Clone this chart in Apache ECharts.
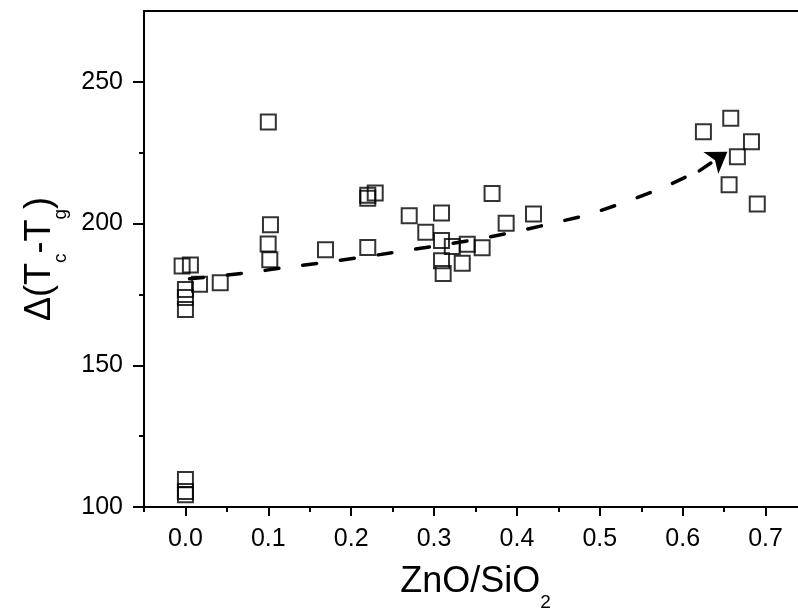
<!DOCTYPE html>
<html>
<head>
<meta charset="utf-8">
<script src="https://cdn.jsdelivr.net/npm/echarts@6/dist/echarts.min.js"></script>
<style>
html,body{margin:0;padding:0;background:#fff;}
#chart{width:798px;height:610px;}
</style>
</head>
<body>
<div id="chart"></div>
<script>
// ---- data ----
const pointX = [-0.004, 0.006, 0.017, 0.042, 0.0, 0.0, 0.0, 0.0, 0.0, 0.0,
                0.100, 0.1026, 0.0998, 0.1018, 0.169, 0.220, 0.220, 0.229, 0.220,
                0.270, 0.309, 0.290, 0.309, 0.322, 0.309, 0.311, 0.334, 0.340, 0.358,
                0.370, 0.387, 0.420,
                0.625, 0.658, 0.683, 0.666, 0.656, 0.690];
const pointY = [185.0, 185.4, 178.6, 179.1, 176.7, 173.9, 169.7, 109.7, 105.5, 104.3,
                235.8, 199.6, 192.8, 187.2, 190.8, 210.0, 208.9, 210.8, 191.6,
                202.8, 203.7, 196.9, 194.0, 191.9, 186.9, 182.4, 186.0, 192.7, 191.5,
                210.6, 200.1, 203.4,
                232.4, 237.2, 228.9, 223.6, 213.7, 206.9];

// dashed trend arrow
const trendX = [0.005, 0.03, 0.08, 0.122, 0.168, 0.213, 0.258, 0.30, 0.35, 0.395, 0.44, 0.485, 0.53, 0.575, 0.62, 0.654];
const trendY = [180.5, 181.2, 182.8, 184.6, 186.3, 188.1, 190.1, 192.0, 194.3, 196.9, 199.9, 203.0, 207.5, 212.5, 218.6, 225.3];

const xMajorTicks = [0, 0.1, 0.2, 0.3, 0.4, 0.5, 0.6, 0.7];
const xMinorTicks = [-0.05, 0.05, 0.15, 0.25, 0.35, 0.45, 0.55, 0.65];
const yMajorTicks = [100, 150, 200, 250];
const yMinorTicks = [125, 175, 225];

const X_MIN = -0.05, X_MAX = 0.75, Y_MIN = 100, Y_MAX = 275;

const scatterData = pointX.map((x, i) => [x, pointY[i]]);
const trendCoords = trendX.map((x, i) => [x, trendY[i]]);
const n = trendCoords.length;
const trendBody = trendCoords.slice(0, n - 1);
const trendHead = trendCoords.slice(n - 2);

const FONT = '"Liberation Sans", Arial, sans-serif';
const axisLineStyle = { color: '#000', width: 2 };
const dashStyle = { color: '#000', width: 3.5, type: [14, 24], cap: 'round', opacity: 1 };

const chart = echarts.init(document.getElementById('chart'), null, { renderer: 'canvas' });

const titleRich = {
  main: { fontSize: 36, fontFamily: FONT, color: '#000', lineHeight: 40, verticalAlign: 'top' },
  sub: { fontSize: 19, fontFamily: FONT, color: '#000', lineHeight: 19, padding: [29, 0, 0, 0], verticalAlign: 'top' }
};

chart.setOption({
  animation: false,
  backgroundColor: '#fff',
  grid: { left: 144, top: 11, right: -9, bottom: 103, containLabel: false, outerBoundsMode: 'none' },
  xAxis: [
    {
      type: 'value', min: X_MIN, max: X_MAX, position: 'bottom',
      axisLine: { show: true, onZero: false, lineStyle: axisLineStyle },
      axisTick: { show: true, customValues: xMajorTicks, length: 9, inside: false, lineStyle: { color: '#000', width: 2 } },
      axisLabel: {
        show: true, customValues: xMajorTicks, margin: 20,
        fontSize: 25, fontFamily: FONT, color: '#000',
        formatter: v => Number(v).toFixed(1)
      },
      splitLine: { show: false },
      name: '{main|ZnO/SiO}{sub|2}',
      nameLocation: 'middle', nameGap: 57,
      nameTextStyle: { rich: titleRich }
    },
    {
      type: 'value', min: X_MIN, max: X_MAX, position: 'bottom',
      axisLine: { show: false, onZero: false },
      axisTick: { show: true, customValues: xMinorTicks, length: 5, lineStyle: { color: '#000', width: 2 } },
      axisLabel: { show: false },
      splitLine: { show: false }
    },
    {
      type: 'value', min: X_MIN, max: X_MAX, position: 'top',
      axisLine: { show: true, onZero: false, lineStyle: axisLineStyle },
      axisTick: { show: false },
      axisLabel: { show: false },
      splitLine: { show: false }
    }
  ],
  yAxis: [
    {
      type: 'value', min: Y_MIN, max: Y_MAX, position: 'left',
      axisLine: { show: true, onZero: false, lineStyle: axisLineStyle },
      axisTick: { show: true, customValues: yMajorTicks, length: 11, lineStyle: { color: '#000', width: 2 } },
      axisLabel: {
        show: true, customValues: yMajorTicks, margin: 21,
        fontSize: 25, fontFamily: FONT, color: '#000'
      },
      splitLine: { show: false },
      name: '{main|Δ(T}{sub|c}{main|-T}{sub|g}{main|)}',
      nameLocation: 'middle', nameGap: 80,
      nameTextStyle: { rich: titleRich }
    },
    {
      type: 'value', min: Y_MIN, max: Y_MAX, position: 'left',
      axisLine: { show: false, onZero: false },
      axisTick: { show: true, customValues: yMinorTicks, length: 5, lineStyle: { color: '#000', width: 2 } },
      axisLabel: { show: false },
      splitLine: { show: false }
    }
  ],
  series: [
    {
      type: 'scatter',
      xAxisIndex: 0, yAxisIndex: 0,
      data: scatterData,
      symbol: 'rect',
      symbolSize: 15,
      itemStyle: { color: 'rgba(0,0,0,0)', borderColor: '#000', borderWidth: 2 },
      emphasis: { disabled: true },
      z: 3
    },
    {
      type: 'lines',
      coordinateSystem: 'cartesian2d',
      xAxisIndex: 0, yAxisIndex: 0,
      polyline: true,
      lineStyle: dashStyle,
      data: [{ coords: trendBody }],
      z: 2
    },
    {
      type: 'lines',
      coordinateSystem: 'cartesian2d',
      xAxisIndex: 0, yAxisIndex: 0,
      symbol: ['none', 'arrow'],
      symbolSize: [13, 20],
      lineStyle: Object.assign({}, dashStyle, { curveness: 0 }),
      data: [{ coords: trendHead }],
      z: 2
    }
  ]
});
</script>
</body>
</html>
